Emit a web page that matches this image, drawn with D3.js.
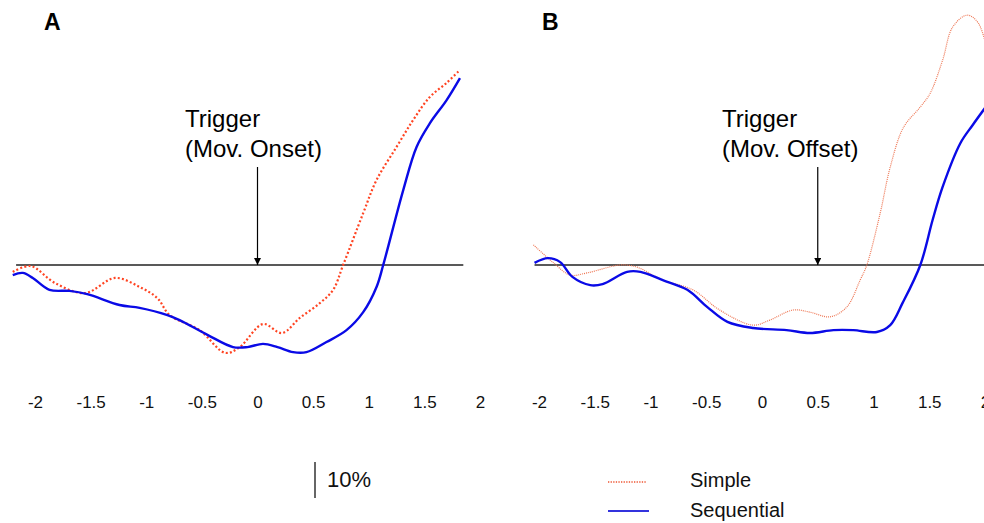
<!DOCTYPE html>
<html>
<head>
<meta charset="utf-8">
<script src="https://cdn.jsdelivr.net/npm/d3@7"></script>
<style>
  body { margin: 0; background: #fff; }
  svg { display: block; font-family: "Liberation Sans", Arial, sans-serif; }
</style>
</head>
<body>
<div id="chart"></div>
<script>
// time (s) relative to trigger, change in percent
var ticks = [-2, -1.5, -1, -0.5, 0, 0.5, 1, 1.5, 2];

var simpleA = [[-2.20,-1.9],[-2.04,-0.3],[-1.82,-5.0],[-1.55,-7.8],[-1.28,-3.6],[-1.06,-6.1],[-0.90,-9.2],
  [-0.79,-13.9],[-0.52,-18.1],[-0.29,-24.4],[-0.16,-22.8],[0.05,-16.4],[0.22,-18.9],[0.38,-14.7],[0.56,-10.6],
  [0.68,-6.9],[0.77,0],[0.95,14.4],[1.07,23.6],[1.25,32.8],[1.40,40.3],[1.55,46.7],[1.70,50.6],[1.82,54.2]];

var seqA = [[-2.20,-2.8],[-2.11,-2.2],[-2.02,-3.6],[-1.87,-6.9],[-1.69,-7.2],[-1.53,-8.1],[-1.24,-11.1],
  [-1.06,-11.9],[-0.81,-13.9],[-0.70,-15.3],[-0.45,-19.4],[-0.22,-22.8],[-0.09,-22.8],[0.05,-21.9],[0.18,-22.8],
  [0.32,-24.2],[0.44,-24.2],[0.62,-21.4],[0.80,-18.1],[0.95,-13.1],[1.07,-6.1],[1.13,0],[1.31,20.8],[1.43,32.8],
  [1.55,39.4],[1.70,45.8],[1.82,51.9]];

var simpleB = [[-2.05,5.6],[-1.87,0.6],[-1.72,-2.8],[-1.57,-2.2],[-1.27,0],[-1.12,-0.6],[-0.89,-4.2],[-0.62,-6.9],
  [-0.38,-12.5],[-0.08,-16.7],[0.07,-15.3],[0.28,-12.5],[0.43,-13.1],[0.61,-14.4],[0.76,-11.7],[0.88,-4.2],
  [0.94,0],[1.06,14.4],[1.15,27.2],[1.27,38.3],[1.42,43.9],[1.51,47.8],[1.62,56.9],[1.71,66.1],[1.84,69.4],
  [1.94,67.2],[2.04,56.9]];

var seqB = [[-2.04,0.6],[-1.92,1.9],[-1.81,0.8],[-1.70,-3.3],[-1.54,-5.6],[-1.43,-5.3],[-1.21,-1.9],[-1.09,-1.9],
  [-0.89,-4.2],[-0.67,-6.9],[-0.49,-11.7],[-0.31,-15.8],[-0.08,-17.5],[0.22,-18.1],[0.43,-18.9],[0.64,-18.1],
  [0.82,-18.1],[1.03,-18.6],[1.15,-16.7],[1.26,-10.6],[1.42,0],[1.53,12.5],[1.62,21.7],[1.78,33.9],[1.89,38.9],
  [2.00,43.6]];

var W = 984, H = 523;
var svg = d3.select("#chart").append("svg").attr("width", W).attr("height", H);

// shared vertical scale: 10% = 36px, zero line at y=265
var y = d3.scaleLinear().domain([0, 10]).range([265, 229]);

var panels = [
  {letter: "A", lx: 44, x: d3.scaleLinear().domain([-2, 2]).range([35, 480]), base: [-2.17, 1.85],
   trig: 0, label: ["Trigger", "(Mov. Onset)"], tx: 185, simple: simpleA, seq: seqA,
   sColor: "#ff4422", sWidth: 2.2, sDash: "2,2.2"},
  {letter: "B", lx: 542, x: d3.scaleLinear().domain([-2, 2]).range([539, 985]), base: [-2.04, 2.0],
   trig: 0.5, label: ["Trigger", "(Mov. Offset)"], tx: 722, simple: simpleB, seq: seqB,
   sColor: "#ee7755", sWidth: 1.2, sDash: "1,1"}
];

svg.append("defs").append("marker")
  .attr("id", "arrow").attr("viewBox", "0 0 10 10").attr("refX", 10).attr("refY", 5)
  .attr("markerWidth", 7).attr("markerHeight", 7).attr("markerUnits", "userSpaceOnUse")
  .attr("orient", "auto")
  .append("path").attr("d", "M0,0L10,5L0,10z").attr("fill", "#000");

panels.forEach(function(p) {
  var g = svg.append("g");
  var line = d3.line().x(function(d) { return p.x(d[0]); }).y(function(d) { return y(d[1]); })
    .curve(d3.curveCatmullRom.alpha(0.5));

  g.append("text").attr("x", p.lx).attr("y", 30).attr("font-size", 23).attr("font-weight", "bold")
    .text(p.letter);

  // zero line
  g.append("line").attr("x1", p.x(p.base[0])).attr("x2", p.x(p.base[1]))
    .attr("y1", y(0)).attr("y2", y(0)).attr("stroke", "#222").attr("stroke-width", 1.3);

  // trigger arrow + label
  g.append("line").attr("x1", p.x(p.trig)).attr("x2", p.x(p.trig))
    .attr("y1", 167).attr("y2", y(0)).attr("stroke", "#000").attr("stroke-width", 1.2)
    .attr("marker-end", "url(#arrow)");
  g.append("text").attr("x", p.tx).attr("y", 127).attr("font-size", 24).text(p.label[0]);
  g.append("text").attr("x", p.tx).attr("y", 157).attr("font-size", 24).text(p.label[1]);

  g.append("path").datum(p.simple).attr("d", line).attr("fill", "none")
    .attr("stroke", p.sColor).attr("stroke-width", p.sWidth).attr("stroke-dasharray", p.sDash);
  g.append("path").datum(p.seq).attr("d", line).attr("fill", "none")
    .attr("stroke", "#0a0ae6").attr("stroke-width", 2.4);

  var ax = g.append("g").attr("transform", "translate(0,396)")
    .call(d3.axisBottom(p.x).tickValues(ticks).tickSize(0).tickPadding(0)
      .tickFormat(function(d) { return String(d); }));
  ax.select(".domain").remove();
  ax.selectAll("text").attr("font-size", 17).attr("fill", "#111")
    .attr("font-family", "\"Liberation Sans\", Arial, sans-serif");
});

// scale bar
svg.append("line").attr("x1", 315).attr("x2", 315).attr("y1", 462).attr("y2", 462 + (y(0) - y(10)))
  .attr("stroke", "#333").attr("stroke-width", 1.5);
svg.append("text").attr("x", 327).attr("y", 487).attr("font-size", 22).attr("fill", "#111").text("10%");

// legend
var legend = svg.append("g");
legend.append("line").attr("x1", 608).attr("x2", 647).attr("y1", 482).attr("y2", 482)
  .attr("stroke", "#ee5533").attr("stroke-width", 1.4).attr("stroke-dasharray", "1.3,1.3");
legend.append("line").attr("x1", 608).attr("x2", 649).attr("y1", 511).attr("y2", 511)
  .attr("stroke", "#3333dd").attr("stroke-width", 2.2);
legend.append("text").attr("x", 690).attr("y", 487).attr("font-size", 20).attr("fill", "#111").text("Simple");
legend.append("text").attr("x", 690).attr("y", 517).attr("font-size", 20).attr("fill", "#111").text("Sequential");
</script>
</body>
</html>
